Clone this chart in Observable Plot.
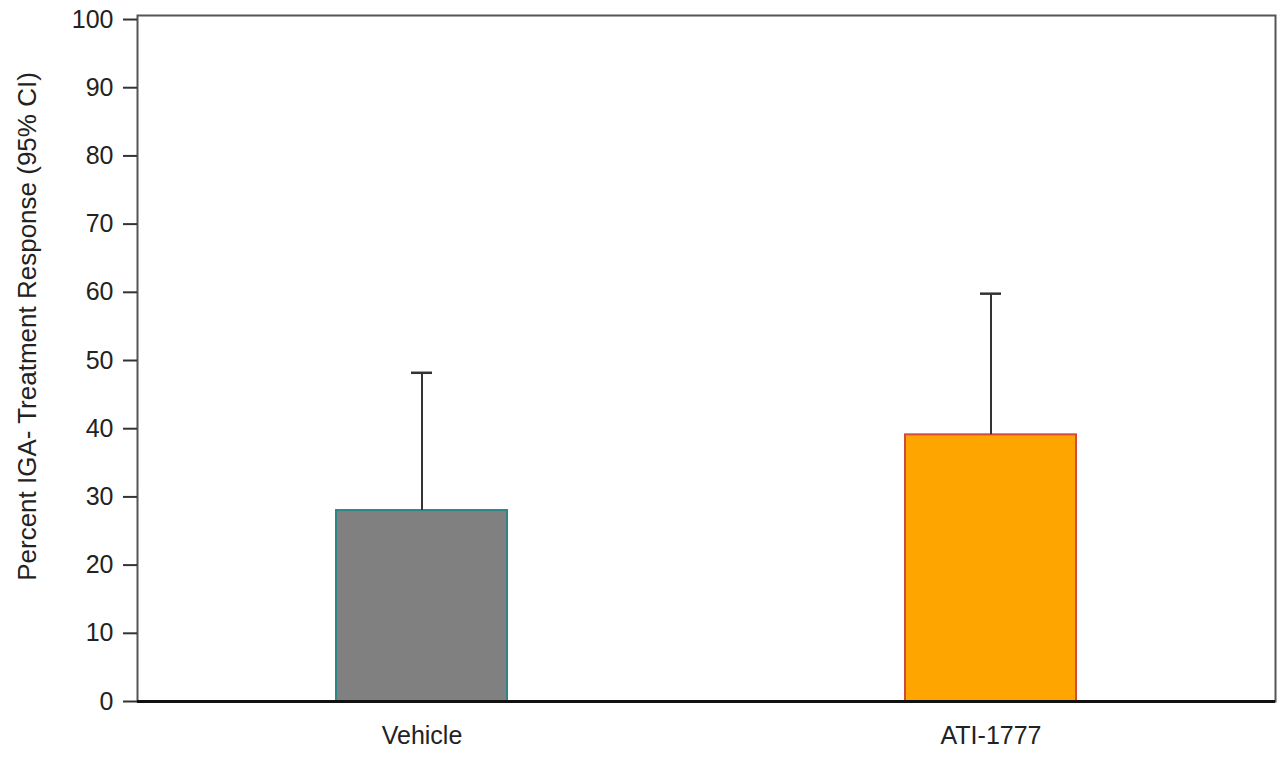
<!DOCTYPE html>
<html>
<head>
<meta charset="utf-8">
<script src="https://cdn.jsdelivr.net/npm/d3@7"></script>
<script src="https://cdn.jsdelivr.net/npm/@observablehq/plot@0.6"></script>
<style>
  html, body { margin: 0; padding: 0; background: #fff; }
  #chart svg { display: block; }
</style>
</head>
<body>
<div id="chart"></div>
<script>
const groups = ["Vehicle", "ATI-1777"];
const responses = [28.0, 39.1];
const upperCI = [48.2, 59.8];
const fills = ["#808080", "#FFA500"];
const strokes = ["#2e8585", "#d24a3a"];
const yTicks = [0, 10, 20, 30, 40, 50, 60, 70, 80, 90, 100];
const yLabel = "Percent IGA- Treatment Response (95% CI)";

const rows = groups.map((g, i) => ({
  group: g, value: responses[i], upper: upperCI[i], fill: fills[i], stroke: strokes[i]
}));

const chart = Plot.plot({
  width: 1278,
  height: 758,
  marginLeft: 137,
  marginRight: 3,
  marginTop: 15,
  marginBottom: 57,
  style: { fontFamily: "'Liberation Sans', Arial, sans-serif", fontSize: "25px", color: "#222", background: "#fff" },
  x: { type: "band", domain: groups, paddingInner: 0.7, paddingOuter: 0.35, label: null },
  y: { domain: [0, 100.59], label: null },
  marks: [
    Plot.barY(rows, { x: "group", y: "value", fill: "fill", stroke: "stroke", strokeWidth: 2 }),
    Plot.ruleX(rows, { x: "group", y1: "value", y2: "upper", stroke: "#333", strokeWidth: 2 }),
    Plot.tickY(rows, { x: "group", y: "upper", stroke: "#333", strokeWidth: 2.5, insetLeft: 75, insetRight: 75 }),
    Plot.frame({ stroke: "#555", strokeWidth: 2 }),
    Plot.ruleY([0], { stroke: "#111", strokeWidth: 3 }),
    Plot.axisY({ ticks: yTicks, tickSize: 14, tickPadding: 10, stroke: "#333", strokeWidth: 2, fontSize: 25, label: null }),
    Plot.axisX({ tickSize: 0, tickPadding: 25, fontSize: 25, label: null }),
    Plot.text([yLabel], { text: d => d, frameAnchor: "left", textAnchor: "middle", rotate: -90, dx: -110, dy: -32, fontSize: 26, fill: "#222" })
  ]
});
document.getElementById("chart").append(chart);
</script>
</body>
</html>
